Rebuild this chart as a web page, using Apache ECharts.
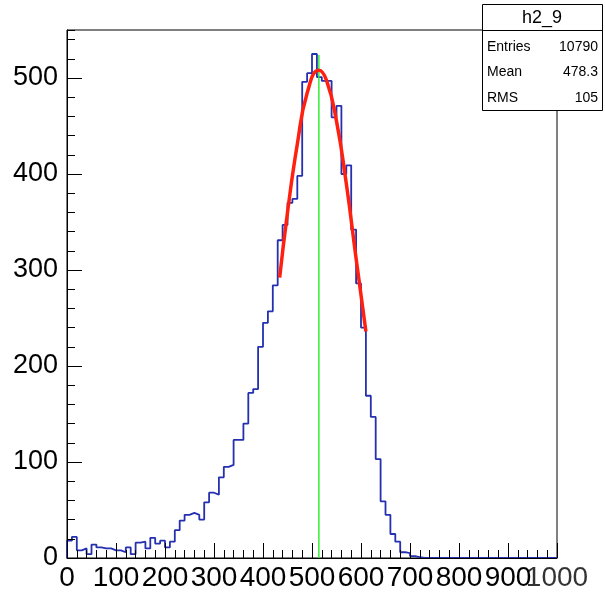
<!DOCTYPE html>
<html><head><meta charset="utf-8">
<script src="https://cdn.jsdelivr.net/npm/echarts@6/dist/echarts.min.js"></script>
<style>html,body{margin:0;padding:0;background:#fff}#c{width:605px;height:595px}</style>
</head><body><div id="c"></div>
<script>
// ---- data ----
const binStart = 0;
const binWidth = 10;
const counts = [
  18, 22, 8, 10, 4, 14, 11, 10, 10, 8,
  8, 6, 11, 4, 16, 17, 10, 21, 15, 18,
  11, 17, 29, 39, 45, 47, 45, 40, 58, 68,
  66, 84, 95, 97, 123, 123, 140, 172, 176, 220,
  245, 257, 284, 331, 347, 370, 374, 398, 496, 505,
  525, 501, 497, 497, 459, 471, 400, 409, 342, 286,
  240, 169, 147, 103, 59, 45, 25, 17, 6, 5,
  2, 1, 0, 0, 0, 0, 0, 0, 0, 0,
  0, 0, 0, 0, 0, 0, 0, 0, 0, 0,
  0, 0, 0, 0, 0, 0, 0, 0, 0, 0
];
const fitX = [434, 450, 470, 490, 514, 530, 550, 570, 590, 610];
const fitY = [292, 360, 431, 484, 508, 497, 455, 390, 312, 236];
const markerX = [514, 514];
const markerY = [0, 524];
const xTickValues = [0, 100, 200, 300, 400, 500, 600, 700, 800, 900, 1000];
const xTickLabels = ['0','100','200','300','400','500','600','700','800','900','1000'];
const yTickLabels = ['0','100','200','300','400','500'];
const statsTitle = 'h2_9';
const statsNames = ['Entries', 'Mean', 'RMS'];
const statsValues = ['10790', '478.3', '105'];

// ---- build ----
const histData = [[binStart, 0]];
counts.forEach((c, i) => histData.push([binStart + i * binWidth, c]));
histData.push([binStart + counts.length * binWidth, 0]);
const fitData = fitX.map((x, i) => [x, fitY[i]]);
const markerData = markerX.map((x, i) => [x, markerY[i]]);
const lastTick = xTickValues.length - 1;

const FONT = 'Liberation Sans';
const chart = echarts.init(document.getElementById('c'), null, {renderer: 'canvas'});
const statsRows = [];
statsNames.forEach((n, i) => {
  const y = [47, 72, 98][i];
  statsRows.push({type: 'text', x: 487, y: y, z: 101, style: {text: n, font: '14px ' + FONT, fill: '#000', align: 'left', verticalAlign: 'middle'}});
  statsRows.push({type: 'text', x: 598, y: y, z: 101, style: {text: statsValues[i], font: '14px ' + FONT, fill: '#000', align: 'right', verticalAlign: 'middle'}});
});

chart.setOption({
  animation: false,
  grid: {left: 67, right: 48, top: 30, bottom: 37, show: true, borderColor: '#000', borderWidth: 1, backgroundColor: 'transparent'},
  xAxis: {
    type: 'value', min: 0, max: 1000, interval: 100, z: 10,
    axisLine: {show: true, onZero: false, lineStyle: {color: '#000', width: 1}},
    axisTick: {show: true, inside: true, length: 15, lineStyle: {color: '#000'}},
    minorTick: {show: true, splitNumber: 5, length: 8, lineStyle: {color: '#000'}},
    splitLine: {show: false},
    axisLabel: {margin: 6, fontFamily: FONT, fontSize: 28, color: '#000', showMinLabel: true, showMaxLabel: false,
      formatter: v => { const i = xTickValues.indexOf(v); return i >= 0 && i < lastTick ? xTickLabels[i] : ''; }}
  },
  yAxis: [{
    type: 'value', min: 0, max: 550, interval: 100, z: 10,
    axisLine: {show: true, lineStyle: {color: '#000', width: 1}},
    axisTick: {show: true, inside: true, length: 15, lineStyle: {color: '#000'}},
    splitLine: {show: false},
    axisLabel: {margin: 9, fontFamily: FONT, fontSize: 27, color: '#000', showMaxLabel: false,
      formatter: v => (v % 100 === 0 ? (yTickLabels[v / 100] ?? '') : '')}
  }, {
    type: 'value', min: 0, max: 550, interval: 20, position: 'left', z: 10,
    axisLine: {show: false},
    axisTick: {show: true, inside: true, length: 8, lineStyle: {color: '#000'}},
    splitLine: {show: false},
    axisLabel: {show: false}
  }],
  series: [{
    type: 'line', data: histData, step: 'end', showSymbol: false, symbol: 'none',
    lineStyle: {color: '#2430b0', width: 1.8}, z: 2
  }, {
    type: 'line', data: markerData, showSymbol: false, symbol: 'none',
    lineStyle: {color: '#33ee33', width: 1.5}, z: 3
  }, {
    type: 'line', data: fitData, smooth: true, showSymbol: false, symbol: 'none',
    lineStyle: {color: '#ff2010', width: 3.5}, z: 4
  }, {
    // last x tick label (kept apart so the axis' overlap logic does not drop "900")
    type: 'scatter', data: [[xTickValues[lastTick], 0]], symbol: 'rect', symbolSize: 1,
    itemStyle: {color: 'rgba(0,0,0,0)'}, silent: true, clip: false, z: 11,
    label: {show: true, position: 'bottom', distance: 6, formatter: () => xTickLabels[lastTick],
      fontFamily: FONT, fontSize: 28, color: '#000'}
  }],
  graphic: [
    {type: 'rect', shape: {x: 482.5, y: 4.5, width: 120, height: 106}, style: {fill: '#fff', stroke: '#000', lineWidth: 1}, z: 100},
    {type: 'line', shape: {x1: 482.5, y1: 30.5, x2: 602.5, y2: 30.5}, style: {stroke: '#000', lineWidth: 1}, z: 101},
    {type: 'text', x: 542, y: 18, z: 101, style: {text: statsTitle, font: '18px ' + FONT, fill: '#000', align: 'center', verticalAlign: 'middle'}},
    ...statsRows
  ]
});
</script></body></html>
